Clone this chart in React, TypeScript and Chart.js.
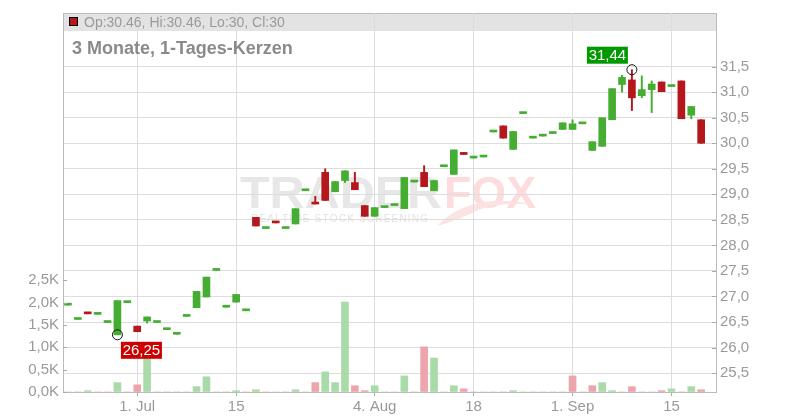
import React, { useEffect, useRef } from 'react';
import { Chart, registerables } from 'chart.js';

Chart.register(...registerables);

// ---- data (one entry per trading day, 20 Jun – 18 Sep) ----
const opens = [
  26.83, 26.55, 26.68, 26.65, 26.49, 26.25, 26.88, 26.42, 26.52, 26.49,
  26.35, 26.26, 26.61, 26.78, 26.99, 27.51, 26.79, 26.89, 26.72, 28.55,
  28.33, 28.45, 28.33, 28.42, 29.07, 28.84, 29.43, 29.05, 29.27, 29.23,
  28.78, 28.57, 28.74, 28.78, 28.72, 29.24, 29.43, 29.07, 29.54, 29.39,
  29.82, 29.71, 29.73, 30.22, 30.34, 29.88, 30.58, 30.10, 30.14, 30.19,
  30.27, 30.27, 30.38, 29.86, 29.94, 30.46, 31.15, 31.24, 30.93, 31.05,
  31.20, 31.11, 31.22, 30.55, 30.46,
];
const closes = [
  26.83, 26.55, 26.66, 26.65, 26.49, 26.92, 26.88, 26.31, 26.60, 26.49,
  26.35, 26.26, 26.61, 27.10, 27.38, 27.51, 26.79, 27.04, 26.72, 28.38,
  28.33, 28.44, 28.33, 28.72, 29.07, 28.81, 28.88, 29.25, 29.46, 29.09,
  28.57, 28.74, 28.74, 28.78, 29.33, 29.24, 29.15, 29.27, 29.54, 29.87,
  29.78, 29.71, 29.73, 30.22, 30.10, 30.23, 30.58, 30.10, 30.14, 30.19,
  30.40, 30.38, 30.38, 30.03, 30.50, 31.07, 31.29, 30.89, 31.05, 31.16,
  31.01, 31.11, 30.48, 30.72, 30.00,
];
const highs = [
  26.83, 26.55, 26.68, 26.65, 26.49, 26.92, 26.88, 26.42, 26.60, 26.49,
  26.35, 26.26, 26.61, 27.10, 27.38, 27.51, 26.79, 27.04, 26.72, 28.55,
  28.33, 28.45, 28.33, 28.72, 29.07, 28.96, 29.50, 29.25, 29.46, 29.43,
  28.78, 28.74, 28.74, 28.78, 29.33, 29.24, 29.56, 29.27, 29.54, 29.87,
  29.82, 29.71, 29.73, 30.22, 30.34, 30.23, 30.58, 30.10, 30.14, 30.19,
  30.40, 30.46, 30.38, 30.03, 30.50, 31.07, 31.33, 31.44, 31.32, 31.22,
  31.20, 31.11, 31.22, 30.72, 30.46,
];
const lows = [
  26.83, 26.55, 26.66, 26.65, 26.49, 26.25, 26.88, 26.31, 26.48, 26.49,
  26.35, 26.26, 26.61, 26.78, 26.99, 27.51, 26.79, 26.89, 26.72, 28.38,
  28.33, 28.44, 28.33, 28.42, 29.07, 28.81, 28.88, 29.05, 29.23, 29.09,
  28.57, 28.57, 28.74, 28.78, 28.72, 29.24, 29.15, 29.07, 29.54, 29.39,
  29.78, 29.71, 29.73, 30.22, 30.10, 29.88, 30.58, 30.10, 30.14, 30.19,
  30.27, 30.27, 30.38, 29.86, 29.94, 30.46, 31.00, 30.64, 30.89, 30.60,
  31.01, 31.11, 30.48, 30.48, 30.00,
];
// volume in thousands
const volumes = [
  0, 0, 0.03, 0, 0, 0.21, 0, 0.16, 0.75, 0,
  0, 0, 0, 0.12, 0.34, 0, 0, 0.03, 0, 0.05,
  0, 0, 0, 0.05, 0, 0.21, 0.45, 0.21, 2.01, 0.14,
  0.03, 0.14, 0, 0, 0.36, 0, 1.01, 0.76, 0, 0.14,
  0.07, 0, 0, 0, 0, 0.03, 0, 0, 0, 0,
  0, 0.36, 0, 0.14, 0.21, 0.03, 0, 0.12, 0, 0,
  0.03, 0.07, 0, 0.12, 0.05,
];

const xTickIdx = [7, 17, 31, 41, 51, 61];
const xTickLabels = ['1. Jul', '15', '4. Aug', '18', '1. Sep', '15'];
const priceTicks = [25.5, 26, 26.5, 27, 27.5, 28, 28.5, 29, 29.5, 30, 30.5, 31, 31.5];
const volumeTicks = [0, 0.5, 1, 1.5, 2, 2.5];
const titleText = '3 Monate, 1-Tages-Kerzen';

const GREEN = '#46ad33';
const RED = '#b4171c';
const VOL_GREEN = '#a9dba9';
const VOL_RED = '#eda5ad';
const FONT = '"Liberation Sans", Arial, sans-serif';

const fmt = (v: number, d: number) => v.toFixed(d).replace('.', ',');

export default function App() {
  const ref = useRef<HTMLCanvasElement | null>(null);

  useEffect(() => {
    if (!ref.current) return;
    const n = opens.length;
    const idx = opens.map((_, i) => i);
    const candleColors = idx.map((i) => (closes[i] < opens[i] ? RED : GREEN));
    const volColors = idx.map((i) =>
      i > 0 && closes[i] < closes[i - 1] ? VOL_RED : VOL_GREEN
    );

    const decor = {
      id: 'decor',
      beforeDraw(chart: any) {
        const { ctx, chartArea: a } = chart;
        ctx.save();
        // header band
        ctx.fillStyle = '#e3e3e3';
        ctx.fillRect(a.left, a.top, a.right - a.left, 18);
        ctx.strokeStyle = '#bdbdbd';
        ctx.lineWidth = 1;
        ctx.beginPath();
        ctx.moveTo(a.left, a.top + 0.5);
        ctx.lineTo(a.right, a.top + 0.5);
        ctx.stroke();

        // watermark
        ctx.font = `bold 44px ${FONT}`;
        ctx.textBaseline = 'alphabetic';
        const drawStretched = (t: string, x: number, y: number, w: number, color: string) => {
          const m = ctx.measureText(t).width;
          ctx.save();
          ctx.translate(x, y);
          ctx.scale(w / m, 1);
          ctx.fillStyle = color;
          ctx.fillText(t, 0, 0);
          ctx.restore();
        };
        drawStretched('TRADER', 240, 208, 202, '#e7e7e7');
        drawStretched('FOX', 444, 208, 92, '#fcdcdc');
        // fox tail swirl
        ctx.fillStyle = '#fde2e2';
        ctx.beginPath();
        ctx.moveTo(437, 226);
        ctx.quadraticCurveTo(470, 192, 530, 204);
        ctx.quadraticCurveTo(490, 202, 470, 214);
        ctx.quadraticCurveTo(452, 222, 437, 226);
        ctx.fill();
        const small = 'REALTIME STOCK SCREENING';
        ctx.font = `10px ${FONT}`;
        ctx.fillStyle = '#e2e2e2';
        const chars = small.split('');
        const total = chars.reduce((s, c) => s + ctx.measureText(c).width, 0);
        const gap = (177 - total) / (chars.length - 1);
        let cx = 251;
        chars.forEach((c) => {
          ctx.fillText(c, cx, 222);
          cx += ctx.measureText(c).width + gap;
        });
        ctx.restore();
      },
      afterDraw(chart: any) {
        const { ctx, chartArea: a, scales } = chart;
        ctx.save();
        // inward tick marks on the value axes
        ctx.strokeStyle = '#aaaaaa';
        ctx.lineWidth = 1;
        volumeTicks.forEach((v) => {
          const y = Math.round(scales.yv.getPixelForValue(v)) + 0.5;
          ctx.beginPath();
          ctx.moveTo(a.left, y);
          ctx.lineTo(a.left + 4, y);
          ctx.stroke();
        });
        priceTicks.forEach((v) => {
          const y = Math.round(scales.y.getPixelForValue(v)) + 0.5;
          ctx.beginPath();
          ctx.moveTo(a.right - 4, y);
          ctx.lineTo(a.right, y);
          ctx.stroke();
        });

        // title
        ctx.font = `bold 18px ${FONT}`;
        ctx.fillStyle = '#8a8a8a';
        ctx.textBaseline = 'alphabetic';
        ctx.textAlign = 'left';
        ctx.fillText(titleText, 72, 54);

        // legend (last candle)
        const L = n - 1;
        ctx.fillStyle = candleColors[L];
        ctx.fillRect(69, 17, 9, 9);
        ctx.strokeStyle = '#000';
        ctx.strokeRect(69.5, 17.5, 8, 8);
        ctx.font = `14px ${FONT}`;
        ctx.fillStyle = '#9a9a9a';
        ctx.fillText(
          `Op:${opens[L]}, Hi:${highs[L]}, Lo:${lows[L]}, Cl:${closes[L]}`,
          84,
          26.5
        );

        // min / max annotations
        let lo = 0;
        let hi = 0;
        idx.forEach((i) => {
          if (lows[i] < lows[lo]) lo = i;
          if (highs[i] > highs[hi]) hi = i;
        });
        const drawMark = (i: number, v: number, below: boolean, color: string) => {
          const px = scales.x.getPixelForValue(i);
          const py = scales.y.getPixelForValue(v);
          ctx.strokeStyle = '#111';
          ctx.lineWidth = 1;
          ctx.beginPath();
          ctx.arc(px, py, 5, 0, Math.PI * 2);
          ctx.stroke();
          const txt = fmt(v, 2);
          ctx.font = `15px ${FONT}`;
          const w = 41;
          const h = 17;
          const bx = below ? px + 3.5 : px - 4 - w;
          const by = below ? py + 7 : py - 6 - h;
          ctx.fillStyle = color;
          ctx.fillRect(bx, by, w, h);
          ctx.fillStyle = '#fff';
          ctx.textAlign = 'center';
          ctx.textBaseline = 'middle';
          ctx.fillText(txt, bx + w / 2, by + h / 2 + 1);
          ctx.textAlign = 'left';
          ctx.textBaseline = 'alphabetic';
        };
        drawMark(lo, lows[lo], true, '#cc0000');
        drawMark(hi, highs[hi], false, '#009900');
        ctx.restore();
      },
    };

    const chart = new Chart(ref.current, {
      type: 'bar',
      data: {
        datasets: [
          {
            label: 'body',
            data: idx.map((i) => ({ x: i, y: [opens[i], closes[i]] })) as any,
            backgroundColor: candleColors,
            barThickness: 7,
            minBarLength: 2,
            grouped: false,
            yAxisID: 'y',
            order: 0,
          },
          {
            label: 'wick',
            data: idx.map((i) => ({ x: i, y: [lows[i], highs[i]] })) as any,
            backgroundColor: candleColors,
            barThickness: 1.3,
            grouped: false,
            yAxisID: 'y',
            order: 1,
          },
          {
            label: 'volume',
            data: idx.map((i) => ({ x: i, y: volumes[i] })) as any,
            backgroundColor: volColors,
            barThickness: 7,
            grouped: false,
            yAxisID: 'yv',
            order: 2,
          },
        ],
      },
      options: {
        responsive: false,
        animation: false,
        layout: { padding: { top: 12, left: 0, right: 0, bottom: 0 } },
        plugins: { legend: { display: false }, tooltip: { enabled: false } },
        font: { family: FONT },
        scales: {
          x: {
            type: 'linear',
            min: -0.5,
            max: n + 0.5,
            offset: false,
            grid: {
              offset: false,
              color: '#dddddd',
              drawTicks: true,
              tickLength: 4,
              tickColor: '#aaaaaa',
            },
            border: { color: '#bbbbbb' },
            ticks: {
              autoSkip: false,
              maxRotation: 0,
              padding: 2,
              color: '#9a9a9a',
              font: { family: FONT, size: 15 },
              callback: (v: any) => {
                const k = xTickIdx.indexOf(Number(v));
                return k >= 0 ? xTickLabels[k] : '';
              },
            },
            afterBuildTicks: (s: any) => {
              s.ticks = xTickIdx.map((v) => ({ value: v }));
            },
            afterFit: (s: any) => {
              s.height = 28;
            },
          },
          yv: {
            type: 'linear',
            position: 'left',
            min: 0,
            max: 8.47,
            grid: { drawOnChartArea: false, drawTicks: false },
            border: { color: '#bbbbbb' },
            ticks: {
              padding: 4,
              color: '#9a9a9a',
              font: { family: FONT, size: 15 },
              callback: (v: any) => `${fmt(Number(v), 1)}K`,
            },
            afterBuildTicks: (s: any) => {
              s.ticks = volumeTicks.map((v) => ({ value: v }));
            },
            afterFit: (s: any) => {
              s.width = 63;
            },
          },
          y: {
            type: 'linear',
            position: 'right',
            min: 25.13,
            max: 32.55,
            grid: { color: '#dddddd', drawTicks: false },
            border: { color: '#bbbbbb' },
            ticks: {
              padding: 4,
              color: '#9a9a9a',
              font: { family: FONT, size: 15 },
              callback: (v: any) => fmt(Number(v), 1),
            },
            afterBuildTicks: (s: any) => {
              s.ticks = priceTicks.map((v) => ({ value: v }));
            },
            afterFit: (s: any) => {
              s.width = 84;
            },
          },
        },
      } as any,
      plugins: [decor],
    });
    return () => chart.destroy();
  }, []);

  return (
    <div style={{ position: 'fixed', left: 0, top: 0, width: 800, height: 420, background: '#fff' }}>
      <canvas ref={ref} width={800} height={420} style={{ width: 800, height: 420, display: 'block' }} />
    </div>
  );
}
